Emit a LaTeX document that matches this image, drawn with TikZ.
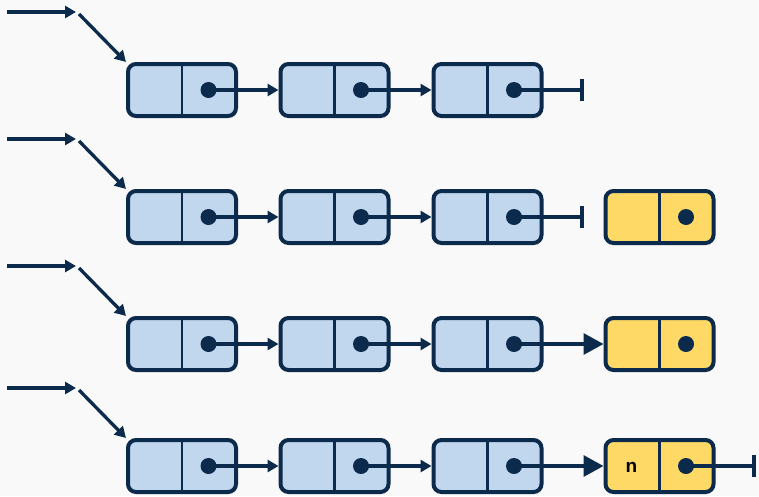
\documentclass[tikz,border=0pt]{standalone}
\usepackage{fontspec}
\setmainfont{Liberation Sans}
\usetikzlibrary{arrows.meta}
\definecolor{navy}{HTML}{0B2A4C}
\definecolor{bluef}{HTML}{C0D7EE}
\definecolor{yelf}{HTML}{FFD966}
\definecolor{bg}{HTML}{F9F9F9}
\tikzset{
  cell/.style={draw=navy, line width=4pt, rounded corners=8pt, minimum width=108pt, minimum height=52pt, inner sep=0pt},
  bnode/.style={cell, fill=bluef},
  ynode/.style={cell, fill=yelf},
  divl/.style={draw=navy, line width=2.2pt},
  dotn/.style={circle, fill=navy, minimum size=16pt, inner sep=0pt},
  conn/.style={draw=navy, line width=3.3pt},
  sarr/.style={conn, -{Triangle[length=11pt,width=12pt]}},
  larr/.style={conn, -{Triangle[length=20pt,width=21pt]}},
  barr/.style={conn, -{Bar[width=22pt,line width=4pt]}},
}
\begin{document}
\begin{tikzpicture}[x=1pt,y=-1pt]
\fill[bg] (0,0) rectangle (759,496);
\useasboundingbox (0,0) rectangle (759,496);
% rows
\foreach \r/\y/\hy in {1/90/12, 2/217/139, 3/344/266, 4/466/388}{
  \coordinate (s\r) at (7,\hy);
  \coordinate (m\r) at (76,\hy);
  \coordinate (q\r) at (79,\hy+2);
  \node[bnode] (a\r) at (182,\y) {};
  \node[bnode] (b\r) at (334.5,\y) {};
  \node[bnode] (c\r) at (487.5,\y) {};
  \foreach \n in {a,b,c}{
    \draw[divl] (\n\r.north) -- (\n\r.south);
    \node[dotn] (\n d\r) at ([xshift=26.5pt]\n\r.center) {};
  }
  \draw[sarr] (s\r) -- (m\r);
  \draw[sarr] (q\r) -- (a\r.north west);
  \draw[sarr] (ad\r.center) -- (b\r.west);
  \draw[sarr] (bd\r.center) -- (c\r.west);
}
% end of rows 1 and 2
\coordinate (e1) at (584,90);
\coordinate (e2) at (584,217);
\draw[barr] (cd1.center) -- (e1);
\draw[barr] (cd2.center) -- (e2);
% yellow nodes
\foreach \r/\y in {2/217, 3/344, 4/466}{
  \node[ynode] (y\r) at (659.5,\y) {};
  \draw[divl] (y\r.north) -- (y\r.south);
  \node[dotn] (yd\r) at ([xshift=26.5pt]y\r.center) {};
}
\draw[larr] (cd3.center) -- (y3.west);
\draw[larr] (cd4.center) -- (y4.west);
\node[font=\bfseries\fontsize{19}{21}\selectfont, text=black] (nl) at ([xshift=-28pt,yshift=-1pt]y4.center) {n};
\coordinate (e4) at (756,466);
\draw[barr] (yd4.center) -- (e4);
\end{tikzpicture}
\end{document}
